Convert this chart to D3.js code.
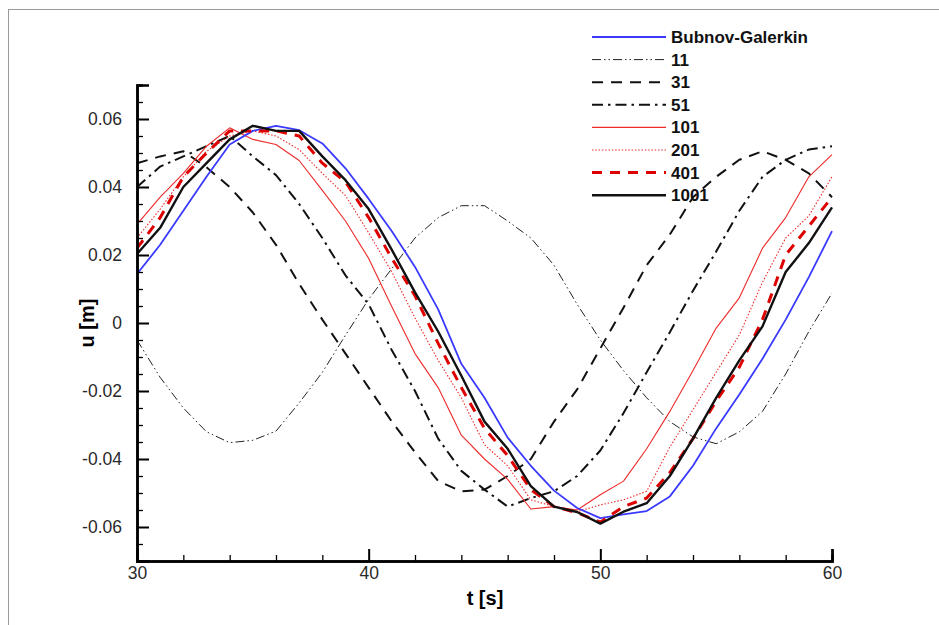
<!DOCTYPE html>
<html>
<head>
<meta charset="utf-8">
<script src="https://cdn.jsdelivr.net/npm/d3@7/dist/d3.min.js"></script>
<style>
  html, body { margin: 0; padding: 0; background: #fff; }
  svg { display: block; }
</style>
</head>
<body>
<svg id="chart" width="939" height="625"></svg>
<script>
// ---- data ----
const time = [30,31,32,33,34,35,36,37,38,39,40,41,42,43,44,45,46,47,48,49,50,51,52,53,54,55,56,57,58,59,60];
const seriesNames = ["Bubnov-Galerkin","11","31","51","101","201","401","1001"];
const bubnovGalerkin = [0.0144,0.023,0.033,0.043,0.0525,0.0565,0.058,0.0567,0.0528,0.0455,0.0365,0.027,0.0165,0.004,-0.012,-0.022,-0.0337,-0.042,-0.0493,-0.0544,-0.0574,-0.0563,-0.0553,-0.051,-0.042,-0.031,-0.021,-0.0105,0.001,0.0135,0.027];
const n11  = [-0.005,-0.016,-0.025,-0.032,-0.0352,-0.0345,-0.0318,-0.0235,-0.0145,-0.0036,0.007,0.016,0.025,0.031,0.0345,0.0345,0.030,0.025,0.017,0.0055,-0.005,-0.014,-0.022,-0.029,-0.0335,-0.0355,-0.032,-0.026,-0.015,-0.0025,0.0088];
const n31  = [0.047,0.049,0.0505,0.0458,0.040,0.0325,0.023,0.0115,0.001,-0.009,-0.019,-0.029,-0.038,-0.0465,-0.0495,-0.049,-0.045,-0.040,-0.029,-0.0195,-0.0075,0.0045,0.017,0.026,0.037,0.043,0.048,0.0505,0.048,0.044,0.037];
const n51  = [0.040,0.046,0.049,0.052,0.055,0.049,0.0435,0.035,0.025,0.014,0.0055,-0.008,-0.020,-0.034,-0.0435,-0.049,-0.054,-0.0515,-0.0495,-0.045,-0.0375,-0.0265,-0.0145,-0.0027,0.0095,0.021,0.033,0.043,0.048,0.051,0.052];
const n101 = [0.029,0.037,0.044,0.052,0.0574,0.054,0.0525,0.0478,0.039,0.030,0.019,0.0048,-0.009,-0.019,-0.033,-0.040,-0.046,-0.0547,-0.054,-0.055,-0.0505,-0.0465,-0.037,-0.026,-0.014,-0.0015,0.0074,0.022,0.031,0.043,0.0495];
const n201 = [0.025,0.0335,0.043,0.0505,0.055,0.0565,0.055,0.051,0.044,0.0375,0.0265,0.015,0.0015,-0.011,-0.022,-0.0358,-0.042,-0.052,-0.054,-0.0555,-0.0535,-0.052,-0.0495,-0.0365,-0.0255,-0.0145,-0.0035,0.012,0.025,0.0315,0.043];
const n401 = [0.022,0.031,0.043,0.050,0.0565,0.0565,0.0565,0.055,0.047,0.0415,0.031,0.019,0.008,-0.006,-0.019,-0.031,-0.039,-0.049,-0.054,-0.0558,-0.0586,-0.054,-0.0515,-0.044,-0.034,-0.023,-0.013,0.001,0.020,0.0285,0.037];
const n1001= [0.0203,0.028,0.040,0.047,0.054,0.058,0.0565,0.0565,0.049,0.042,0.0335,0.0215,0.009,-0.0025,-0.0155,-0.029,-0.037,-0.048,-0.054,-0.0556,-0.059,-0.0555,-0.053,-0.045,-0.034,-0.022,-0.011,-0.001,0.015,0.0235,0.034];
const xMajorTicks = [30,40,50,60];
const xMinorTicks = [32,34,36,38,42,44,46,48,52,54,56,58];
const yMajorTicks = [-0.06,-0.04,-0.02,0,0.02,0.04,0.06];
const yMinorTicks = [-0.065,-0.055,-0.05,-0.045,-0.035,-0.03,-0.025,-0.015,-0.01,-0.005,0.005,0.01,0.015,0.025,0.03,0.035,0.045,0.05,0.055,0.065];
const yTickLabels = ["-0.06","-0.04","-0.02","0","0.02","0.04","0.06"];

const allValues = [bubnovGalerkin,n11,n31,n51,n101,n201,n401,n1001];
const styles = [
  {color:"#3a3aff", width:1.8, dash:null},
  {color:"#222",    width:1.0, dash:"9,3,1.5,3,1.5,3"},
  {color:"#111",    width:2.0, dash:"11,8"},
  {color:"#111",    width:2.0, dash:"11,5,2.5,5"},
  {color:"#ee2a2a", width:1.1, dash:null},
  {color:"#ee2a2a", width:1.1, dash:"1.5,1.8"},
  {color:"#dd0000", width:3.0, dash:"10,8"},
  {color:"#111",    width:2.4, dash:null}
];

// ---- layout ----
const svg = d3.select("#chart");
const x = d3.scaleLinear().domain([30,60]).range([137,832]);
const y = d3.scaleLinear().domain([-0.07,0.07]).range([561,85]);

// outer frame
svg.append("rect").attr("x",8.5).attr("y",9.5).attr("width",940).attr("height",630)
  .attr("fill","none").attr("stroke","#9a9a9a").attr("stroke-width",1);

// lines
const line = d3.line().x((d,i)=>x(time[i])).y(d=>y(d));
const drawOrder = [1,2,3,4,5,0,6,7];
drawOrder.forEach(k=>{
  const s = styles[k];
  svg.append("path").datum(allValues[k])
    .attr("d",line).attr("fill","none")
    .attr("stroke",s.color).attr("stroke-width",s.width)
    .attr("stroke-dasharray",s.dash).attr("stroke-linejoin","round");
});

// axes
const fontFam = "'Liberation Sans', Arial, sans-serif";
const gx = svg.append("g").attr("transform",`translate(0,${y(-0.07)})`);
gx.call(d3.axisBottom(x).tickValues(xMajorTicks).tickFormat(d3.format("d")).tickSize(-12).tickPadding(6));
const gxm = svg.append("g").attr("transform",`translate(0,${y(-0.07)})`);
gxm.call(d3.axisBottom(x).tickValues(xMinorTicks).tickFormat("").tickSize(-6));
const gy = svg.append("g").attr("transform",`translate(${x(30)},0)`);
gy.call(d3.axisLeft(y).tickValues(yMajorTicks).tickFormat((d,i)=>yTickLabels[i]).tickSize(-12).tickPadding(15));
const gym = svg.append("g").attr("transform",`translate(${x(30)},0)`);
gym.call(d3.axisLeft(y).tickValues(yMinorTicks).tickFormat("").tickSize(-6));

[gx,gxm,gy,gym].forEach(g=>{
  g.select(".domain").attr("stroke","#000").attr("stroke-width",2.5);
  g.selectAll(".tick line").attr("stroke","#000").attr("stroke-width",1.3);
  g.selectAll(".tick text").attr("font-family",fontFam).attr("font-size",17.5).attr("fill","#2a2a2a");
});
gx.selectAll(".tick line").attr("stroke-width",2);
gy.selectAll(".tick line").attr("stroke-width",2);

// axis titles
svg.append("text").attr("x",485).attr("y",605).attr("text-anchor","middle")
  .attr("font-family",fontFam).attr("font-weight","bold").attr("font-size",20).text("t [s]");
svg.append("text").attr("transform",`translate(94,${y(0)}) rotate(-90)`).attr("text-anchor","middle")
  .attr("font-family",fontFam).attr("font-weight","bold").attr("font-size",20).text("u [m]");

// legend
const lg = svg.append("g");
seriesNames.forEach((name,i)=>{
  const s = styles[i];
  const yy = 37 + i*22.6;
  lg.append("line").attr("x1",592).attr("x2",666).attr("y1",yy).attr("y2",yy)
    .attr("stroke",s.color).attr("stroke-width",s.width).attr("stroke-dasharray",s.dash);
  lg.append("text").attr("x",671).attr("y",yy+6).attr("font-family",fontFam)
    .attr("font-weight","bold").attr("font-size",17).attr("fill","#111").text(name);
});
</script>
</body>
</html>
